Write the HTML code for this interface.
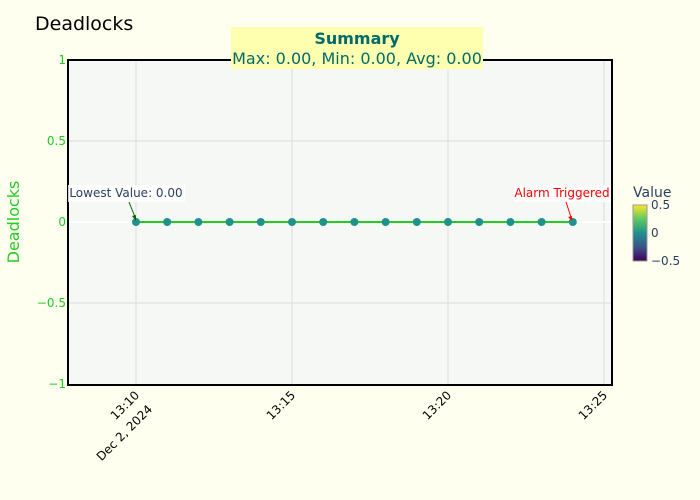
<!DOCTYPE html>
<html><head><style>
body{margin:0;background:#fffff0;}
svg{display:block;font-family:"DejaVu Sans","Liberation Sans",sans-serif;}
</style></head><body>
<svg width="700" height="500" viewBox="0 0 700 500">
<defs>
<linearGradient id="vir" x1="0" y1="1" x2="0" y2="0">
<stop offset="0" stop-color="#440154"/><stop offset="0.25" stop-color="#3b528b"/><stop offset="0.5" stop-color="#21918c"/><stop offset="0.75" stop-color="#5ec962"/><stop offset="1" stop-color="#fde725"/>
</linearGradient>
</defs>
<rect width="700" height="500" fill="#fffff0"/>
<rect x="68" y="60" width="544" height="325" fill="#f6f8f5"/>
<g stroke="#dcdcdc" stroke-width="1">
<line x1="136" y1="60" x2="136" y2="385"/><line x1="292" y1="60" x2="292" y2="385"/>
<line x1="448" y1="60" x2="448" y2="385"/><line x1="604" y1="60" x2="604" y2="385"/>
<line x1="68" y1="141" x2="612" y2="141"/><line x1="68" y1="303" x2="612" y2="303"/>
</g>
<line x1="68" y1="222" x2="612" y2="222" stroke="#fff" stroke-width="2"/>
<rect x="68" y="60" width="544" height="325" fill="none" stroke="#000" stroke-width="2"/>
<line x1="136" y1="222" x2="572" y2="222" stroke="#22cc22" stroke-width="2"/>
<g fill="#21918c">
<circle cx="136" cy="222" r="4"/><circle cx="167.2" cy="222" r="4"/><circle cx="198.4" cy="222" r="4"/><circle cx="229.6" cy="222" r="4"/><circle cx="260.8" cy="222" r="4"/><circle cx="292" cy="222" r="4"/><circle cx="323.2" cy="222" r="4"/><circle cx="354.4" cy="222" r="4"/><circle cx="385.6" cy="222" r="4"/><circle cx="416.8" cy="222" r="4"/><circle cx="448" cy="222" r="4"/><circle cx="479.2" cy="222" r="4"/><circle cx="510.4" cy="222" r="4"/><circle cx="541.6" cy="222" r="4"/><circle cx="572.8" cy="222" r="4"/>
</g>
<g font-size="12" fill="#22cc22" text-anchor="end">
<text x="66" y="64">1</text><text x="66" y="145">0.5</text><text x="66" y="226">0</text><text x="66" y="307">−0.5</text><text x="66" y="388">−1</text>
</g>
<text transform="translate(19,222) rotate(-90)" text-anchor="middle" font-size="16" fill="#22cc22">Deadlocks</text>
<g font-size="12" fill="#000" text-anchor="end">
<text transform="translate(140,396) rotate(-45)">13:10</text>
<text transform="translate(153,410) rotate(-45)">Dec 2, 2024</text>
<text transform="translate(296,396) rotate(-45)">13:15</text>
<text transform="translate(452,396) rotate(-45)">13:20</text>
<text transform="translate(608,396) rotate(-45)">13:25</text>
</g>
<text x="35" y="30" font-size="19" fill="#000">Deadlocks</text>
<rect x="231" y="27" width="252" height="42" fill="#ffffb0"/>
<text x="357" y="44" text-anchor="middle" font-size="16" font-weight="bold" fill="#006a6a">Summary</text>
<text x="357" y="64" text-anchor="middle" font-size="16" fill="#006a6a">Max: 0.00, Min: 0.00, Avg: 0.00</text>
<rect x="68" y="185" width="117" height="17" fill="#fff" opacity="0.8"/>
<text x="126" y="197" text-anchor="middle" font-size="12" fill="#2a3f5f">Lowest Value: 0.00</text>
<line x1="129" y1="202" x2="135" y2="217" stroke="#006400" stroke-width="1"/>
<path d="M136,221 l-4,-5 l4,-1z" fill="#006400"/>
<rect x="514" y="185" width="97" height="17" fill="#fff" opacity="0.8"/>
<text x="562" y="197" text-anchor="middle" font-size="12" fill="#ff0000">Alarm Triggered</text>
<line x1="566" y1="202" x2="571" y2="217" stroke="#ff0000" stroke-width="1"/>
<path d="M572,221 l-4,-4 l4,-1z" fill="#ff0000"/>
<text x="633" y="197" font-size="14" fill="#2a3f5f">Value</text>
<rect x="633" y="205" width="14" height="56" fill="url(#vir)" stroke="#999" stroke-width="1"/>
<g font-size="12" fill="#2a3f5f">
<text x="651" y="209">0.5</text><text x="651" y="237">0</text><text x="651" y="265">−0.5</text>
</g>
</svg>
</body></html>
